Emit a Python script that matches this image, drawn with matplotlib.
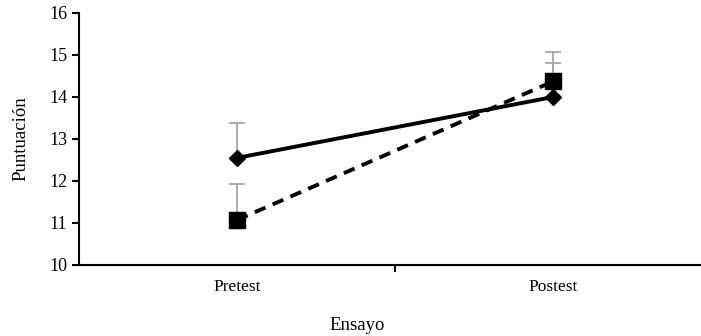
import matplotlib
matplotlib.use("Agg")
import matplotlib.pyplot as plt

categories = ["Pretest", "Postest"]
solid_vals = [12.55, 14.0]
solid_err = [0.83, 0.82]
dashed_vals = [11.07, 14.37]
dashed_err = [0.86, 0.71]

plt.rcParams["font.family"] = ["Liberation Serif", "DejaVu Serif"]

fig = plt.figure(figsize=(7.01, 3.36), dpi=100)
ax = fig.add_axes([79 / 701, 71 / 336, 632 / 701, 252 / 336])

x = [0, 1]
# gray upper error bars
ax.errorbar(x, solid_vals, yerr=[[0, 0], solid_err], fmt="none", ecolor="#a6a6a6",
            elinewidth=1.3, capsize=6, capthick=1.3, zorder=1)
ax.errorbar(x, dashed_vals, yerr=[[0, 0], dashed_err], fmt="none", ecolor="#a6a6a6",
            elinewidth=1.3, capsize=6, capthick=1.3, zorder=1)

ax.plot(x, solid_vals, color="black", lw=2.8, marker="D", markersize=8, zorder=3)
ax.plot(x, dashed_vals, color="black", lw=2.8, ls=(0, (3, 2)), marker="s",
        markersize=11, zorder=3)

ax.set_xlim(-0.5, 1.5)
ax.set_ylim(10, 16)
ax.set_yticks(range(10, 17))
ax.set_xticks([0.5])
ax.set_xticklabels([""])
for xi, lab in zip(x, categories):
    ax.text(xi, -0.055, lab, transform=ax.get_xaxis_transform(), ha="center",
            va="top", fontsize=12.5)

ax.spines["top"].set_visible(False)
ax.spines["right"].set_visible(False)
ax.spines["left"].set_linewidth(1.5)
ax.spines["bottom"].set_linewidth(1.5)
ax.tick_params(axis="y", direction="out", length=5, width=1.5, labelsize=13)
ax.tick_params(axis="x", direction="out", length=5, width=1.5)

ax.set_ylabel("Puntuación", fontsize=13.5, labelpad=14)
fig.text(357 / 701, 1 - 325 / 336, "Ensayo", ha="center", va="center", fontsize=13.5)

fig.savefig("out.png", dpi=100)
plt.close(fig)
